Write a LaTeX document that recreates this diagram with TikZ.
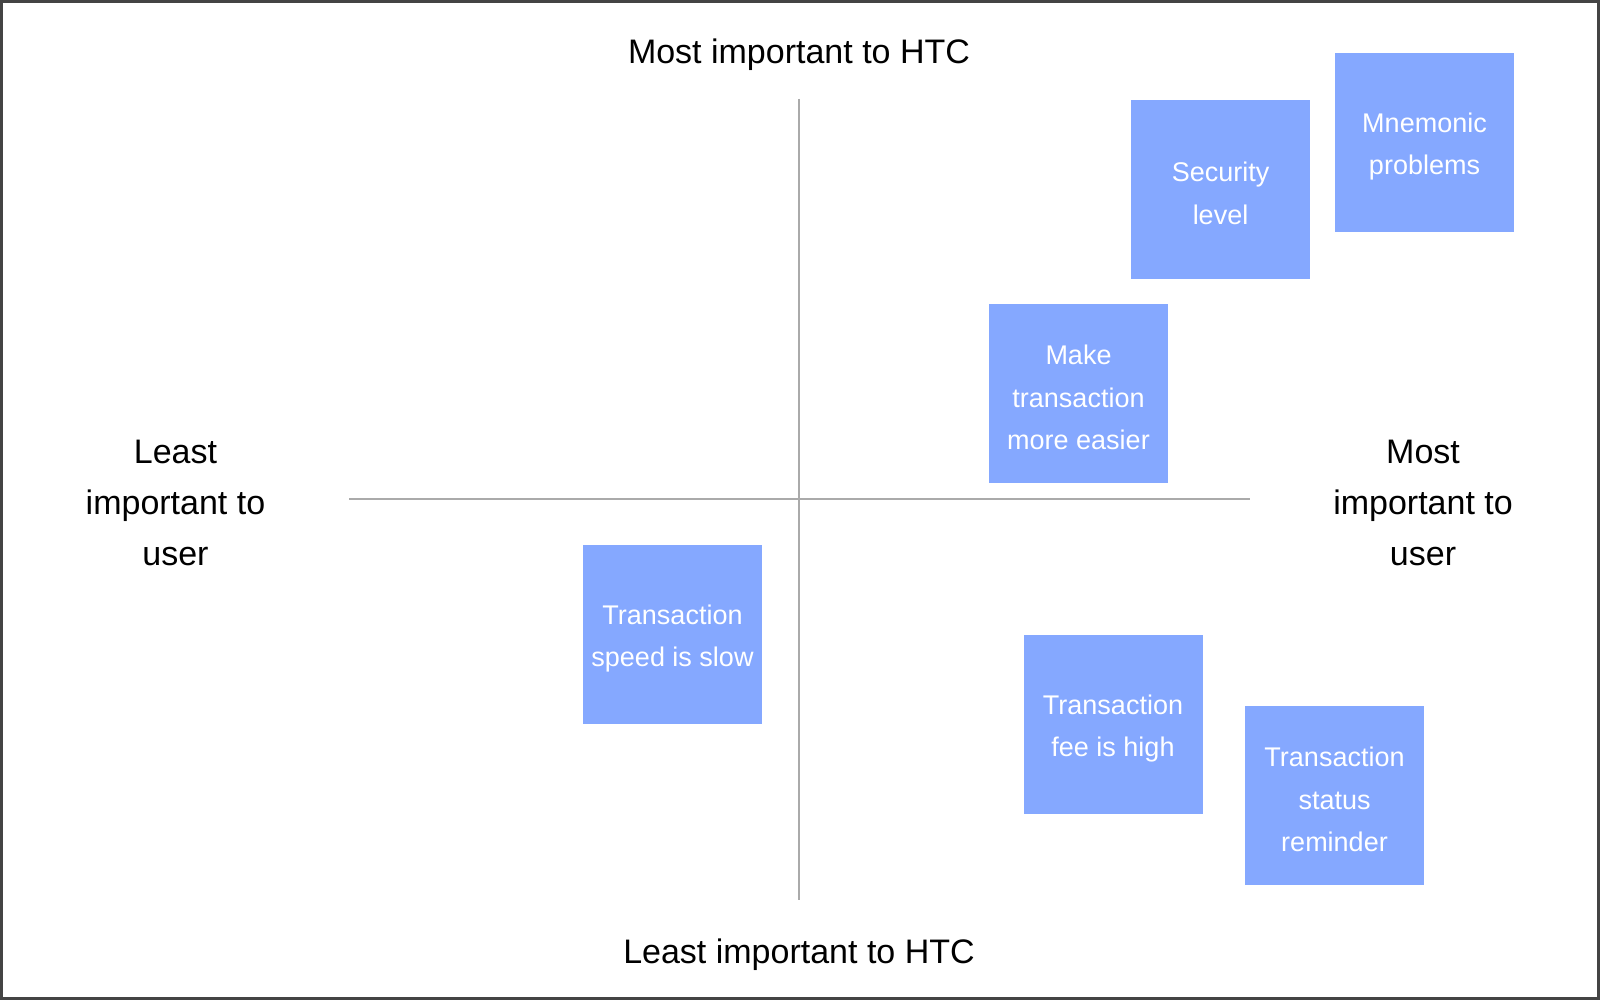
\documentclass[tikz,border=0pt]{standalone}
\usepackage{fontspec}
\setmainfont{Liberation Sans}
\definecolor{boxblue}{HTML}{85A8FF}
\definecolor{axisgray}{HTML}{AAAAAA}
\definecolor{framegray}{HTML}{444444}
\begin{document}
\begin{tikzpicture}[x=1pt,y=-1pt,
  note/.style={fill=boxblue, draw=none, minimum width=179pt, minimum height=179pt,
    inner sep=0pt},
  notetext/.style={text=white, align=center, inner sep=0pt, font=\fontsize{27}{42.4}\selectfont},
  axislabel/.style={text=black, align=center, inner sep=0pt, font=\fontsize{34}{51}\selectfont},
  axisline/.style={draw=axisgray, line width=1.3pt}]
\useasboundingbox (0,0) rectangle (1600,1000);
\fill[white] (0,0) rectangle (1600,1000);
\draw[framegray, line width=2.6pt] (1.3,1.3) rectangle (1598.7,998.7);
% axes
\coordinate (vtop) at (799,99);
\coordinate (vbot) at (799,900);
\coordinate (hleft) at (349,499);
\coordinate (hright) at (1250,499);
\draw[axisline] (vtop) -- (vbot);
\draw[axisline] (hleft) -- (hright);
% axis labels
\node[axislabel] (top) at (799,55) {Most important to HTC};
\node[axislabel] (bottom) at (799,955) {Least important to HTC};
\node[axislabel] (left) at (175.5,503) {Least\\important to\\user};
\node[axislabel] (right) at (1423,503) {Most\\important to\\user};
% notes
\node[note] (security) at (1220.5,189.5) {};
\node[notetext] (securityt) at ([yshift=-4pt]security.center) {Security\\level};
\node[note] (mnemonic) at (1424.5,142.5) {};
\node[notetext] (mnemonict) at ([yshift=-4pt]mnemonic.center) {Mnemonic\\problems};
\node[note] (easier) at (1078.5,393.5) {};
\node[notetext] (easiert) at ([yshift=-4pt]easier.center) {Make\\transaction\\more easier};
\node[note] (speed) at (672.5,634.5) {};
\node[notetext] (speedt) at ([yshift=-4pt]speed.center) {Transaction\\speed is slow};
\node[note] (fee) at (1113,724.5) {};
\node[notetext] (feet) at ([yshift=-4pt]fee.center) {Transaction\\fee is high};
\node[note] (status) at (1334.5,795.5) {};
\node[notetext] (statust) at ([yshift=-4pt]status.center) {Transaction\\status\\reminder};
\end{tikzpicture}
\end{document}
